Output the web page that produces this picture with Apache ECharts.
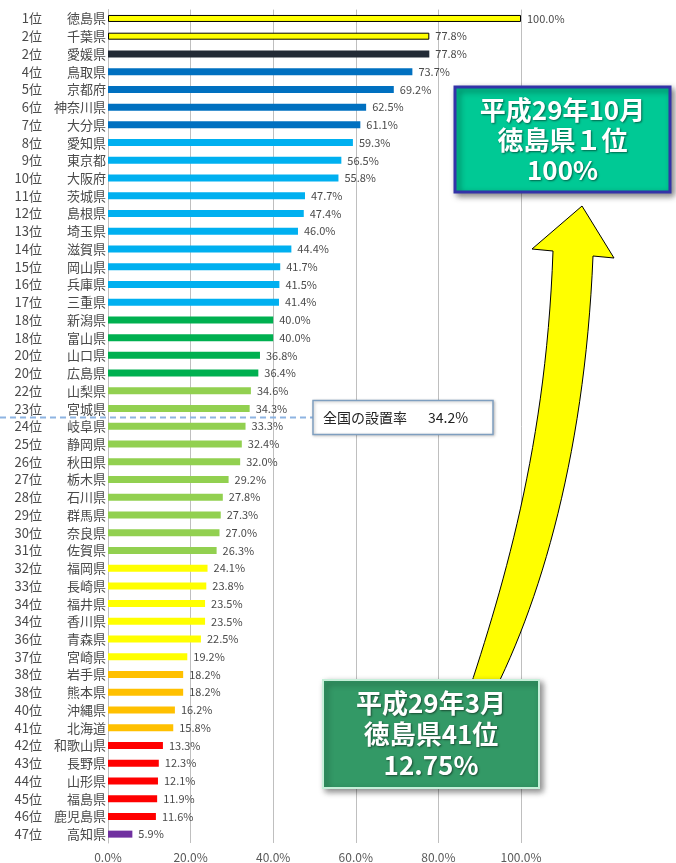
<!DOCTYPE html>
<html><head><meta charset="utf-8">
<script src="https://cdn.jsdelivr.net/npm/echarts@6/dist/echarts.min.js"></script>
<style>html,body{margin:0;padding:0;background:#fff}#c{width:676px;height:863px}</style>
</head><body><div id="c"></div>
<script>
const ranks = ['1位','2位','2位','4位','5位','6位','7位','8位','9位','10位','11位','12位','13位','14位','15位','16位','17位','18位','18位','20位','20位','22位','23位','24位','25位','26位','27位','28位','29位','30位','31位','32位','33位','34位','34位','36位','37位','38位','38位','40位','41位','42位','43位','44位','45位','46位','47位'];
const prefs = ['徳島県','千葉県','愛媛県','鳥取県','京都府','神奈川県','大分県','愛知県','東京都','大阪府','茨城県','島根県','埼玉県','滋賀県','岡山県','兵庫県','三重県','新潟県','富山県','山口県','広島県','山梨県','宮城県','岐阜県','静岡県','秋田県','栃木県','石川県','群馬県','奈良県','佐賀県','福岡県','長崎県','福井県','香川県','青森県','宮崎県','岩手県','熊本県','沖縄県','北海道','和歌山県','長野県','山形県','福島県','鹿児島県','高知県'];
const rates = [100.0,77.8,77.8,73.7,69.2,62.5,61.1,59.3,56.5,55.8,47.7,47.4,46.0,44.4,41.7,41.5,41.4,40.0,40.0,36.8,36.4,34.6,34.3,33.3,32.4,32.0,29.2,27.8,27.3,27.0,26.3,24.1,23.8,23.5,23.5,22.5,19.2,18.2,18.2,16.2,15.8,13.3,12.3,12.1,11.9,11.6,5.9];
const colorGroups = ['Y','Y','N','B','B','B','B','C','C','C','C','C','C','C','C','C','C','G','G','G','G','L','L','L','L','L','L','L','L','L','L','Y2','Y2','Y2','Y2','Y2','Y2','O','O','O','O','R','R','R','R','R','P'];
const xTicks = ['0.0%','20.0%','40.0%','60.0%','80.0%','100.0%'];
const nationalRate = 34.2;

const palette = {Y:'#FFFF00',Y2:'#FFFF00',N:'#222A35',B:'#0070C0',C:'#00B0F0',G:'#00B050',L:'#92D050',O:'#FFC000',R:'#FF0000',P:'#7030A0'};
const FONT = '"Noto Sans CJK JP", sans-serif';

const chart = echarts.init(document.getElementById('c'));
const data = rates.map((v,i)=>({
  value:v,
  itemStyle:{color:palette[colorGroups[i]], borderColor: colorGroups[i]==='Y' ? '#000' : 'transparent', borderWidth: colorGroups[i]==='Y' ? 1 : 0}
}));

chart.setOption({
  animation:false,
  grid:{left:108, right:155, top:9.6, bottom:14, containLabel:false},
  xAxis:{type:'value', min:0, max:100, interval:20,
    axisLine:{show:false}, axisTick:{show:false},
    splitLine:{lineStyle:{color:'#BFBFBF', width:1}},
    axisLabel:{formatter:(v)=>xTicks[Math.round(v/20)], color:'#595959', fontSize:12, fontFamily:FONT, margin:8}
  },
  yAxis:{type:'category', inverse:true, data:prefs,
    axisLine:{show:true, lineStyle:{color:'#BFBFBF'}}, axisTick:{show:false},
    axisLabel:{margin:2, interval:0, fontFamily:FONT,
      formatter:(v,i)=>'{r|'+ranks[i]+'}{n|'+v+'}',
      rich:{r:{width:40, align:'right', fontSize:13, color:'#4a4a4a', fontFamily:FONT},
            n:{width:64, align:'right', fontSize:13, color:'#4a4a4a', fontFamily:FONT}}
    }
  },
  series:[{type:'bar', data:data, barWidth:7,
    label:{show:true, position:'right', distance:6, fontSize:11, color:'#4a4a4a', fontFamily:FONT,
      formatter:(p)=>p.value.toFixed(1)+'%'}
  }]
});

const yA = chart.convertToPixel({yAxisIndex:0}, prefs[22]);
const yB = chart.convertToPixel({yAxisIndex:0}, prefs[23]);
const Y = (yA+yB)/2;

// curved arrow outline (annotation shape) sampled from cubic beziers
function bez(p0,p1,p2,p3,n){
  const pts=[];
  for(let k=0;k<=n;k++){const t=k/n,u=1-t;
    pts.push([u*u*u*p0[0]+3*u*u*t*p1[0]+3*u*t*t*p2[0]+t*t*t*p3[0],
              u*u*u*p0[1]+3*u*u*t*p1[1]+3*u*t*t*p2[1]+t*t*t*p3[1]]);}
  return pts;
}
const leftEdge = bez([466,700],[502,590],[546,450],[553,251],30);
const rightEdge = bez([593,256],[585,450],[542,600],[490,700],30);
const arrowPts = leftEdge.concat([[532,249],[582,206],[614,258]]).concat(rightEdge);

const shadow = {shadowBlur:6, shadowColor:'rgba(0,0,0,0.45)', shadowOffsetX:3, shadowOffsetY:3};
chart.setOption({
  graphic:[
    {type:'line', z:10, shape:{x1:0,y1:Y,x2:313,y2:Y}, style:{stroke:'#8DB4E2', lineWidth:2, lineDash:[6,4]}},
    {type:'rect', z:10, shape:{x:313,y:Y-17,width:180,height:34}, style:{fill:'#fff', stroke:'#7F9FC0', lineWidth:1.5, shadowBlur:3, shadowColor:'rgba(0,0,0,0.25)', shadowOffsetX:1, shadowOffsetY:1}},
    {type:'text', z:11, style:{text:'全国の設置率', x:323, y:Y, font:'14px '+FONT, fill:'#222', textVerticalAlign:'middle', verticalAlign:'middle'}},
    {type:'text', z:11, style:{text:nationalRate.toFixed(1)+'%', x:428, y:Y, font:'14px '+FONT, fill:'#222', textVerticalAlign:'middle', verticalAlign:'middle'}},
    {type:'polygon', z:12, shape:{points:arrowPts}, style:{fill:'#FFFF00', stroke:'#000', lineWidth:1}},
    {type:'rect', z:13, shape:{x:455,y:87,width:215,height:105}, style:Object.assign({fill:'#00C995', stroke:'#3333A8', lineWidth:3}, shadow)},
    {type:'text', z:14, style:{text:'平成29年10月\n徳島県１位\n100%', x:562.5, y:140, font:'bold 26px '+FONT, lineHeight:30, fill:'#fff',
      textAlign:'center', align:'center', textVerticalAlign:'middle', verticalAlign:'middle',
      textShadowColor:'rgba(0,0,0,0.5)', textShadowBlur:2, textShadowOffsetX:1, textShadowOffsetY:1}},
    {type:'rect', z:13, shape:{x:323,y:680,width:216,height:108}, style:Object.assign({fill:'#339966', stroke:'#C6EFD9', lineWidth:2}, shadow)},
    {type:'text', z:14, style:{text:'平成29年3月\n徳島県41位\n12.75%', x:431, y:734, font:'bold 26px '+FONT, lineHeight:31, fill:'#fff',
      textAlign:'center', align:'center', textVerticalAlign:'middle', verticalAlign:'middle',
      textShadowColor:'rgba(0,0,0,0.5)', textShadowBlur:2, textShadowOffsetX:1, textShadowOffsetY:1}}
  ]
});
</script></body></html>
